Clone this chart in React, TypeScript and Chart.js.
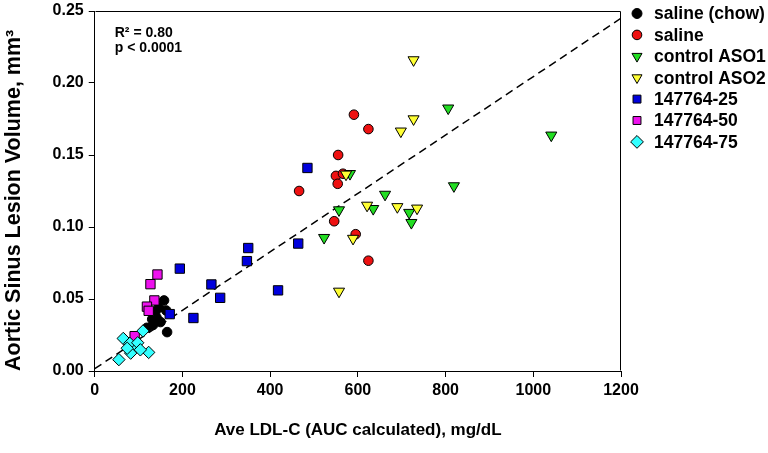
import React, { useEffect, useRef } from 'react';
import { Chart, registerables } from 'chart.js';

Chart.register(...registerables);

const FONT = "Arial, 'Liberation Sans', Helvetica, sans-serif";

// ---- data ----
const seriesNames = ['saline (chow)', 'saline', 'control ASO1', 'control ASO2', '147764-25', '147764-50', '147764-75'];

const salineChowX = [158, 146, 163, 138, 131, 150, 133, 165, 119, 141];
const salineChowY = [0.049, 0.044, 0.042, 0.041, 0.036, 0.034, 0.032, 0.027, 0.030, 0.037];

const salineX = [624, 591, 555, 550, 566, 554, 466, 546, 595, 624];
const salineY = [0.168, 0.178, 0.150, 0.1355, 0.137, 0.130, 0.125, 0.104, 0.095, 0.0766];

const controlAso1X = [806, 1041, 819, 662, 635, 717, 722, 557, 523, 582];
const controlAso1Y = [0.1825, 0.1637, 0.1285, 0.1226, 0.1127, 0.110, 0.103, 0.1118, 0.0926, 0.137];

const controlAso2X = [727, 727, 698, 573, 621, 690, 735, 589, 557];
const controlAso2Y = [0.216, 0.175, 0.1665, 0.1366, 0.115, 0.114, 0.113, 0.092, 0.0553];

const dose25X = [485, 464, 350, 347, 194, 266, 286, 418, 225, 171];
const dose25Y = [0.141, 0.0885, 0.0854, 0.0763, 0.0711, 0.0601, 0.0508, 0.056, 0.0368, 0.0395];

const dose50X = [143, 127, 136, 119, 123, 91];
const dose50Y = [0.067, 0.0603, 0.049, 0.0447, 0.0418, 0.0242];

const dose75X = [65, 110, 123, 55, 89, 80, 98, 104, 82, 74];
const dose75Y = [0.0226, 0.0278, 0.0129, 0.0079, 0.0158, 0.0192, 0.0196, 0.0147, 0.0124, 0.0158];

const regressionX = [0, 1200];
const regressionY = [0.0016, 0.245];

const xTickValues = [0, 200, 400, 600, 800, 1000, 1200];
const yTickValues = [0, 0.05, 0.1, 0.15, 0.2, 0.25];

const statsLines = ['R\u00B2 = 0.80', 'p < 0.0001'];
const xTitle = 'Ave LDL-C (AUC calculated), mg/dL';
const yTitle = 'Aortic Sinus Lesion Volume, mm\u00B3';

// ---- styles ----
const seriesColors = ['#000000', '#ee1111', '#22dd22', '#ffff33', '#0000dd', '#ee11ee', '#33ffff'];
const seriesStyles = ['circle', 'circle', 'triangle', 'triangle', 'rect', 'rect', 'rectRot'];
const seriesRotation = [0, 0, 180, 180, 0, 0, 0];
const seriesRadius = [4.8, 4.8, 6.4, 6.4, 6.6, 6.6, 6.2];
const legendRadius = [5, 4.8, 5.8, 5.8, 5.6, 5.6, 6.4];

const seriesX = [salineChowX, salineX, controlAso1X, controlAso2X, dose25X, dose50X, dose75X];
const seriesY = [salineChowY, salineY, controlAso1Y, controlAso2Y, dose25Y, dose50Y, dose75Y];

function toPoints(xs: number[], ys: number[]) {
  return xs.map((x, i) => ({ x, y: ys[i] }));
}

function drawMarker(ctx: CanvasRenderingContext2D, style: string, x: number, y: number, r: number, rot: number) {
  ctx.beginPath();
  if (style === 'circle') {
    ctx.arc(x, y, r, 0, Math.PI * 2);
  } else if (style === 'rect') {
    const s = r * Math.SQRT1_2;
    ctx.rect(x - s, y - s, 2 * s, 2 * s);
  } else if (style === 'rectRot') {
    ctx.moveTo(x - r, y);
    ctx.lineTo(x, y - r);
    ctx.lineTo(x + r, y);
    ctx.lineTo(x, y + r);
    ctx.closePath();
  } else if (style === 'triangle') {
    let a = (rot * Math.PI) / 180;
    ctx.moveTo(x + Math.sin(a) * r, y - Math.cos(a) * r);
    a += (2 * Math.PI) / 3;
    ctx.lineTo(x + Math.sin(a) * r, y - Math.cos(a) * r);
    a += (2 * Math.PI) / 3;
    ctx.lineTo(x + Math.sin(a) * r, y - Math.cos(a) * r);
    ctx.closePath();
  }
  ctx.fill();
  ctx.stroke();
}

const framePlugin = {
  id: 'frame',
  afterDraw(chart: any) {
    const { ctx, chartArea } = chart;
    const l = Math.round(chartArea.left) + 0.5;
    const r = Math.round(chartArea.right) - 0.5;
    const t = Math.round(chartArea.top) + 0.5;
    const b = Math.round(chartArea.bottom) - 0.5;
    ctx.save();
    ctx.strokeStyle = '#000';
    ctx.lineWidth = 1;
    ctx.beginPath();
    ctx.moveTo(l, t);
    ctx.lineTo(r, t);
    ctx.lineTo(r, b);
    ctx.stroke();
    ctx.restore();
  },
};

const annotationPlugin = {
  id: 'stats',
  afterDraw(chart: any) {
    const { ctx, chartArea } = chart;
    ctx.save();
    ctx.font = `bold 14px ${FONT}`;
    ctx.fillStyle = '#000';
    ctx.textBaseline = 'middle';
    ctx.textAlign = 'left';
    statsLines.forEach((line, i) => {
      ctx.fillText(line, chartArea.left + 20, chartArea.top + 22 + i * 15);
    });
    ctx.restore();
  },
};

const legendPlugin = {
  id: 'sideLegend',
  afterDraw(chart: any) {
    const { ctx, chartArea } = chart;
    ctx.save();
    ctx.font = `bold 17.5px ${FONT}`;
    ctx.textBaseline = 'middle';
    ctx.textAlign = 'left';
    ctx.lineWidth = 1;
    ctx.strokeStyle = '#000';
    const markerX = chartArea.right + 16;
    const textX = chartArea.right + 33;
    seriesNames.forEach((name, i) => {
      const y = 13.5 + i * 21.4;
      ctx.fillStyle = seriesColors[i];
      drawMarker(ctx, seriesStyles[i], markerX, y, legendRadius[i], seriesRotation[i]);
      ctx.fillStyle = '#000';
      ctx.fillText(name, textX, y + 1);
    });
    ctx.restore();
  },
};

export default function App() {
  const canvasRef = useRef<HTMLCanvasElement | null>(null);

  useEffect(() => {
    if (!canvasRef.current) return;
    const n = seriesNames.length;
    const datasets: any[] = seriesNames.map((name, i) => ({
      label: name,
      data: toPoints(seriesX[i], seriesY[i]),
      backgroundColor: seriesColors[i],
      borderColor: '#000',
      borderWidth: 1,
      pointStyle: seriesStyles[i],
      pointRotation: seriesRotation[i],
      pointRadius: seriesRadius[i],
      pointHoverRadius: seriesRadius[i],
      showLine: false,
      order: n - i,
    }));
    datasets.push({
      label: 'regression',
      data: toPoints(regressionX, regressionY),
      showLine: true,
      borderColor: '#000',
      borderWidth: 1.5,
      borderDash: [8, 5],
      pointRadius: 0,
      fill: false,
      order: n + 1,
    });

    const chart = new Chart(canvasRef.current, {
      type: 'scatter',
      data: { datasets },
      options: {
        responsive: false,
        animation: false,
        devicePixelRatio: 1,
        layout: { padding: { left: 0, right: 147, top: 6, bottom: 0 } },
        plugins: {
          legend: { display: false },
          tooltip: { enabled: false },
        },
        scales: {
          x: {
            type: 'linear',
            min: 0,
            max: 1200,
            afterBuildTicks: (axis: any) => {
              axis.ticks = xTickValues.map((v) => ({ value: v }));
            },
            ticks: {
              color: '#000',
              font: { family: FONT, size: 16, weight: 'bold' },
              padding: 4,
              maxRotation: 0,
              callback: (v: any) => String(v),
            },
            grid: { drawOnChartArea: false, drawTicks: true, tickLength: 6, color: '#000', lineWidth: 1 },
            border: { display: true, color: '#000', width: 1 },
            title: {
              display: true,
              text: xTitle,
              color: '#000',
              font: { family: FONT, size: 17, weight: 'bold' },
              padding: { top: 15.6, bottom: 12.8 },
            },
          },
          y: {
            type: 'linear',
            min: 0,
            max: 0.25,
            afterBuildTicks: (axis: any) => {
              axis.ticks = yTickValues.map((v) => ({ value: v }));
            },
            ticks: {
              color: '#000',
              font: { family: FONT, size: 16, weight: 'bold', lineHeight: 0.75 },
              padding: 5,
              callback: (v: any) => Number(v).toFixed(2),
            },
            grid: { drawOnChartArea: false, drawTicks: true, tickLength: 6, color: '#000', lineWidth: 1 },
            border: { display: true, color: '#000', width: 1 },
            title: {
              display: true,
              text: yTitle,
              align: 'start',
              color: '#000',
              font: { family: FONT, size: 21.5, weight: 'bold' },
              padding: { top: 1.2, bottom: 20.6 },
            },
          },
        },
      },
      plugins: [framePlugin, annotationPlugin, legendPlugin],
    } as any);

    return () => chart.destroy();
  }, []);

  return (
    <div style={{ position: 'absolute', left: 0, top: 0, width: 768, height: 453, background: '#fff' }}>
      <canvas ref={canvasRef} width={768} height={453} style={{ display: 'block' }} />
    </div>
  );
}
